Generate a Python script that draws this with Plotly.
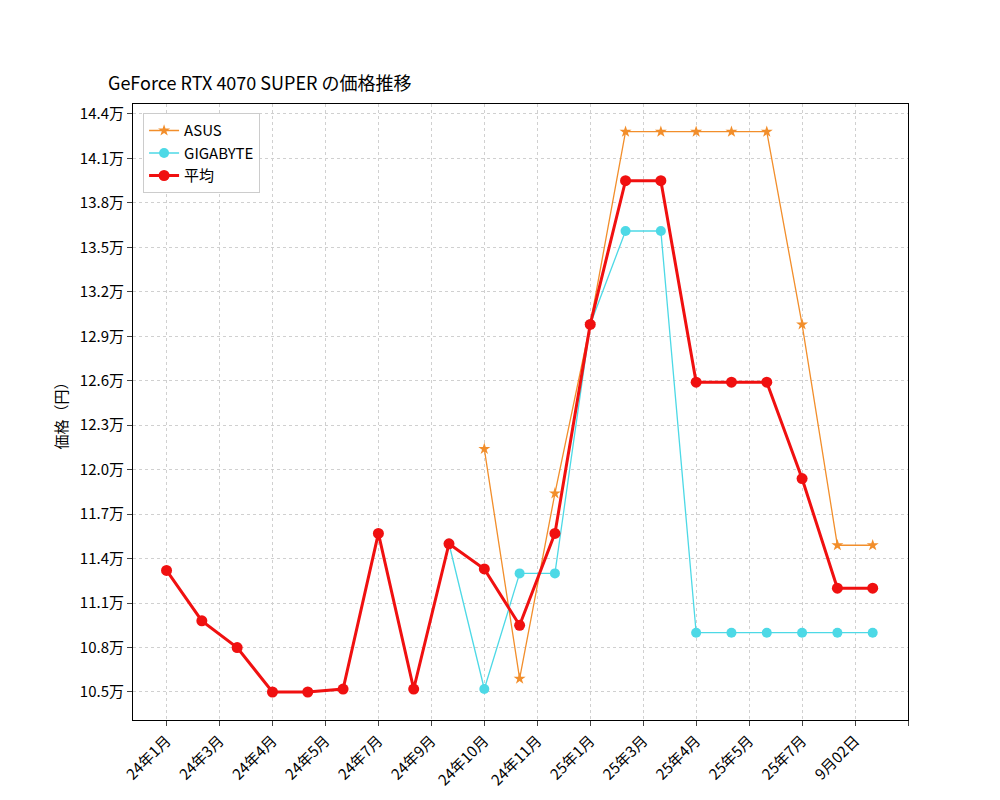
import plotly.graph_objects as go

n = 21
idx = list(range(n))
tick_labels = ["24年1月","24年3月","24年4月","24年5月","24年7月","24年9月","24年10月","24年11月",
               "25年1月","25年3月","25年4月","25年5月","25年7月","9月02日",""]
tick_pos = [i*1.5 for i in range(15)]

avg = [11.32,10.98,10.80,10.50,10.50,10.52,11.57,10.52,11.50,11.33,10.95,11.57,12.98,13.95,13.95,12.59,12.59,12.59,11.94,11.20,11.20]
asus_x = list(range(9,21))
asus = [12.14,10.59,11.84,12.98,14.28,14.28,14.28,14.28,14.28,12.98,11.49,11.49]
giga_x = list(range(8,21))
giga = [11.50,10.52,11.30,11.30,12.98,13.61,13.61,10.90,10.90,10.90,10.90,10.90,10.90]

yticks = [10.5,10.8,11.1,11.4,11.7,12.0,12.3,12.6,12.9,13.2,13.5,13.8,14.1,14.4]

font = "Noto Sans CJK JP"
fig = go.Figure()
fig.add_trace(go.Scatter(x=asus_x, y=asus, name="ASUS", mode="lines+markers",
    line=dict(color="#f28e2b", width=1.3), marker=dict(symbol="star", size=9, color="#f28e2b")))
fig.add_trace(go.Scatter(x=giga_x, y=giga, name="GIGABYTE", mode="lines+markers",
    line=dict(color="#4dd9e6", width=1.3), marker=dict(symbol="circle", size=10, color="#4dd9e6")))
fig.add_trace(go.Scatter(x=idx, y=avg, name="平均", mode="lines+markers",
    line=dict(color="#f01010", width=3), marker=dict(symbol="circle", size=11, color="#f01010")))

fig.update_layout(
    width=1000, height=800, plot_bgcolor="white", paper_bgcolor="white",
    margin=dict(l=125, r=100, t=96, b=88, autoexpand=False),
    font=dict(family=font, size=15, color="black"),
    title=dict(text="GeForce RTX 4070 SUPER の価格推移", x=0.1, xanchor="left", y=0.906, yanchor="middle",
               font=dict(size=18)),
    legend=dict(x=0.013, y=0.985, xanchor="left", yanchor="top", bgcolor="white",
                bordercolor="#cccccc", borderwidth=1, font=dict(size=15)),
    showlegend=True,
)
fig.update_xaxes(range=[-0.95, 21], tickvals=tick_pos, ticktext=tick_labels, tickangle=-45,
    showgrid=True, gridcolor="#d0d0d0", griddash="dot", gridwidth=0.6, automargin=False,
    showline=True, linecolor="black", mirror=True, ticks="outside", ticklen=5, zeroline=False)
fig.update_yaxes(range=[10.311, 14.467], tickvals=yticks, ticktext=[f"{v:.1f}万" for v in yticks],
    showgrid=True, gridcolor="#d0d0d0", griddash="dot", gridwidth=0.6, automargin=False,
    showline=True, linecolor="black", mirror=True, ticks="outside", ticklen=5, zeroline=False,
    title=dict(text="価格（円）", standoff=8, font=dict(size=15)))
fig.write_html("out.html")
